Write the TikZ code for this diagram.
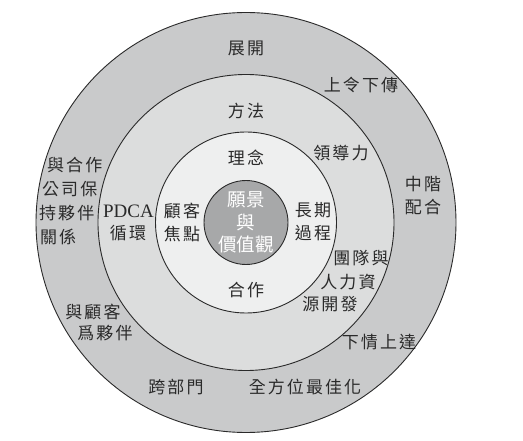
\documentclass[tikz,border=0pt]{standalone}
\usepackage{fontspec}
\newfontfamily\cjk[LetterSpace=12]{Noto Sans CJK TC}
\newfontfamily\cjkc{Noto Sans CJK TC}
\newfontfamily\latinserif{Liberation Serif}
\definecolor{ringA}{HTML}{C9CACB}
\definecolor{ringB}{HTML}{DCDDDD}
\definecolor{ringC}{HTML}{EEEFEF}
\definecolor{core}{HTML}{A7A8A9}
\definecolor{edge}{HTML}{2A2A2A}
\definecolor{ink}{HTML}{2A2A2A}
\tikzset{
  disc/.style={circle, draw=edge, line width=0.9pt, inner sep=0},
  lbl/.style={font=\cjk\fontsize{17}{23}\selectfont, text=ink, inner sep=0, align=center},
  lblw/.style={lbl, anchor=west},
  corelbl/.style={font=\cjkc\fontsize{18.5}{22.5}\selectfont, text=white, inner sep=0, align=center},
  latin/.style={font=\latinserif\fontsize{19}{19}\selectfont, text=ink, inner sep=0}
}
\begin{document}
\begin{tikzpicture}[x=1pt,y=-1pt]
\useasboundingbox (0,0) rectangle (523,441);
\fill[white] (0,0) rectangle (523,441);
\coordinate (O) at (246,222.5);
\node[disc, fill=ringA, minimum size=420pt] (outer) at (O) {};
\node[disc, fill=ringB, minimum size=296pt] (middle) at (O) {};
\node[disc, fill=ringC, minimum size=181pt] (inner) at (O) {};
\node[disc, fill=core, minimum size=84pt] (center) at (O) {};
% center
\node[corelbl] (vision) at (246,222.5) {願景\\與\\價值觀};
% inner ring
\node[lbl] (linian) at (246,158) {理念};
\node[lbl] (hezuo) at (246,290) {合作};
\node[lbl] (guke) at (182,222) {顧客\\焦點};
\node[lbl] (changqi) at (313,222) {長期\\過程};
% middle ring
\node[lbl] (fangfa) at (246,111) {方法};
\node[lbl] (lingdao) at (341,153) {領導力};
\node[latin] (pdca) at (128.5,211) {PDCA};
\node[lbl] (xunhuan) at (128,233) {循環};
\node[lbl] (tuandui) at (361,258) {團隊與};
\node[lbl] (renli) at (348,282) {人力資};
\node[lbl] (yuan) at (330,304) {源開發};
% outer ring
\node[lbl] (zhankai) at (246,48) {展開};
\node[lbl] (shangling) at (361,85) {上令下傳};
\node[lbl] (zhongjie) at (423,196) {中階\\配合};
\node[lblw] (yuhe) at (47,165) {與合作};
\node[lblw] (gongsi) at (42,189) {公司保};
\node[lblw] (chihuo) at (39,213) {持夥伴};
\node[lblw] (guanxi) at (40,237) {關係};
\node[lbl] (yugu) at (93,312) {與顧客};
\node[lbl] (weihuo) at (105,333) {爲夥伴};
\node[lbl] (xiaqing) at (379,342) {下情上達};
\node[lbl] (kuabu) at (176,387) {跨部門};
\node[lbl] (quanfang) at (305,387) {全方位最佳化};
\end{tikzpicture}
\end{document}
